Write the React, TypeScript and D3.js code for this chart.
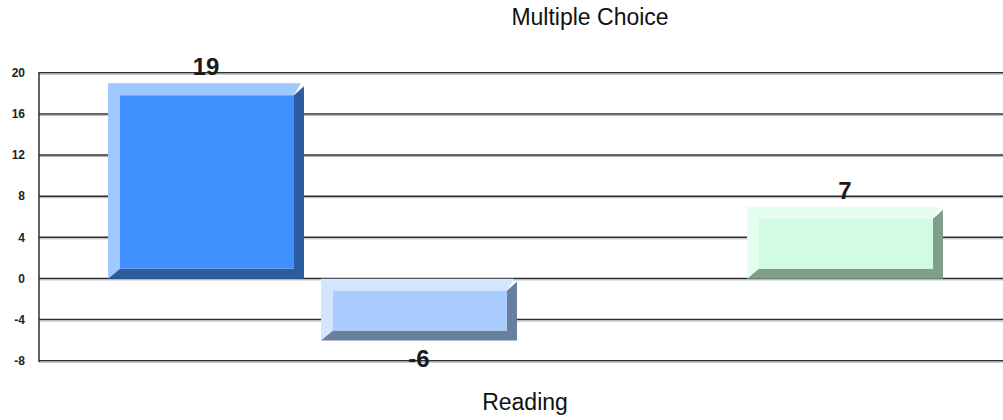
import React from "react";
import * as d3 from "d3";

const slots = ["S1", "S2", "S3", "S4"];
const values: (number | null)[] = [19, -6, null, 7];
const faceColors = ["#4091ff", "#a9cdfe", "#000000", "#d2fce2"];
const lightColors = ["#a0c8ff", "#d3e6ff", "#000000", "#e6fef0"];
const darkColors = ["#2b5d9e", "#6a7f9d", "#000000", "#7f9f8a"];
const yTicks = [20, 16, 12, 8, 4, 0, -4, -8];
const titleTop = "Multiple Choice";
const titleBottom = "Reading";

const W = 1003;
const H = 420;
const FONT = "'Liberation Sans', Arial, sans-serif";

export default function App() {
  const x = d3
    .scaleBand<string>()
    .domain(slots)
    .range([99.5, 951.5])
    .paddingInner(0.08)
    .paddingOuter(0.04);
  const y = d3.scaleLinear().domain([-8, 20]).range([361, 73]);
  const left = 39;
  const pts = (a: number[][]) => a.map((p) => p.join(",")).join(" ");

  return (
    <svg width={W} height={H} style={{ position: "absolute", left: 0, top: 0, background: "#fff" }}>
      <text x={590} y={25} textAnchor="middle" fontFamily={FONT} fontSize={23} fill="#111">
        {titleTop}
      </text>
      {yTicks.map((t) => (
        <g key={t}>
          <line x1={left} x2={W} y1={y(t) - 0.25} y2={y(t) - 0.25} stroke="#2e2e2e" strokeWidth={1.5} />
          <line x1={left} x2={W} y1={y(t) + 1.2} y2={y(t) + 1.2} stroke="#b0b0b0" strokeWidth={1} />
          <text x={25} y={y(t) + 4} textAnchor="end" fontFamily={FONT} fontWeight="bold" fontSize={12} fill="#222">
            {t}
          </text>
        </g>
      ))}
      <line x1={left} x2={left} y1={y(20) - 1} y2={y(-8) + 1} stroke="#2e2e2e" strokeWidth={1.5} />
      {slots.map((s, i) => {
        const v = values[i];
        if (v === null) return null;
        const x0 = x(s)!;
        const x1 = x0 + x.bandwidth();
        const y0 = Math.min(y(v), y(0));
        const y1 = Math.max(y(v), y(0));
        const bl = 12, bt = 12, br = 10, bb = 10;
        const light = [
          [x0, y0], [x1 - 3, y0], [x1 - br, y0 + bt], [x0 + bl, y0 + bt],
          [x0 + bl, y1 - bb], [x0, y1],
        ];
        const dark = [
          [x1, y0 + 3], [x1, y1], [x0, y1], [x0 + bl, y1 - bb],
          [x1 - br, y1 - bb], [x1 - br, y0 + bt],
        ];
        const cx = (x0 + x1) / 2;
        const labelY = v >= 0 ? y0 - 8 : y1 + 27;
        return (
          <g key={s}>
            <polygon points={pts(light)} fill={lightColors[i]} />
            <polygon points={pts(dark)} fill={darkColors[i]} />
            <rect x={x0 + bl} y={y0 + bt} width={x1 - br - x0 - bl} height={y1 - bb - y0 - bt} fill={faceColors[i]} />
            <text x={cx} y={labelY} textAnchor="middle" fontFamily={FONT} fontWeight="bold" fontSize={24} fill="#1a1a1a">
              {v}
            </text>
          </g>
        );
      })}
      <text x={525} y={410} textAnchor="middle" fontFamily={FONT} fontSize={23} fill="#111">
        {titleBottom}
      </text>
    </svg>
  );
}
